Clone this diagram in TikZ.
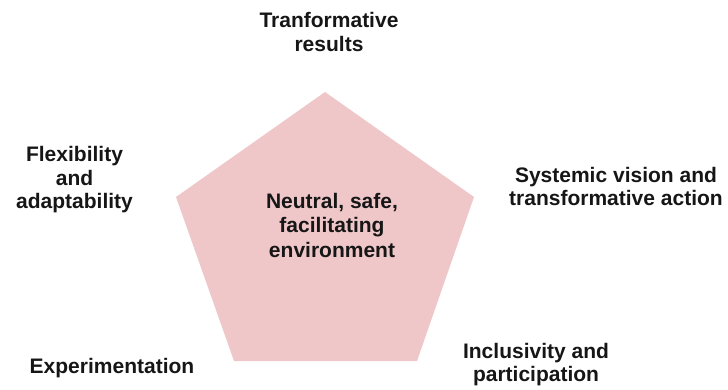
\documentclass[tikz,border=0pt]{standalone}
\usepackage{fontspec}
\setmainfont{Liberation Sans}
\definecolor{pent}{RGB}{239,199,201}
\definecolor{ink}{RGB}{22,22,22}
\begin{document}
\begin{tikzpicture}[x=1pt,y=-1pt,
  lbl/.style={font=\bfseries\fontsize{21}{23.5}\selectfont, text=ink, align=center, inner sep=0pt, anchor=base},
  midlbl/.style={lbl, font=\bfseries\fontsize{21}{25}\selectfont}]
\useasboundingbox (0,0) rectangle (728,390);
\coordinate (T) at (325,92);
\coordinate (L) at (176,197);
\coordinate (R) at (474,197);
\coordinate (BL) at (234,361);
\coordinate (BR) at (417,361);
\fill[pent] (T) -- (R) -- (BR) -- (BL) -- (L) -- cycle;
\node[midlbl] (center) at (332,258) {Neutral, safe,\\facilitating\\environment};
\node[lbl] (top) at (329,51.5) {Tranformative\\results};
\node[lbl] (flex) at (74.5,208.5) {Flexibility\\and\\adaptability};
\node[lbl] (sys) at (616,205.5) {Systemic vision and\\transformative action};
\node[lbl] (exp) at (112,373) {Experimentation};
\node[lbl] (incl) at (536,381.5) {Inclusivity and\\participation};
\end{tikzpicture}
\end{document}
